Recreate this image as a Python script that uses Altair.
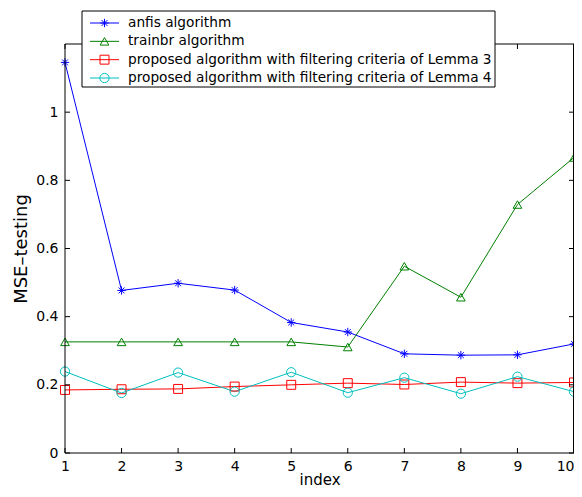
import altair as alt
import pandas as pd

# ---- data ----
index = [1, 2, 3, 4, 5, 6, 7, 8, 9, 10]
anfis = [1.146, 0.477, 0.498, 0.478, 0.383, 0.355, 0.291, 0.287, 0.288, 0.320]
trainbr = [0.326, 0.326, 0.326, 0.326, 0.326, 0.311, 0.548, 0.457, 0.729, 0.867]
lemma3 = [0.185, 0.187, 0.188, 0.195, 0.200, 0.205, 0.201, 0.208, 0.205, 0.207]
lemma4 = [0.239, 0.176, 0.236, 0.180, 0.237, 0.177, 0.221, 0.174, 0.224, 0.180]

series_names = [
    "anfis algorithm",
    "trainbr algorithm",
    "proposed algorithm with filtering criteria of Lemma 3",
    "proposed algorithm with filtering criteria of Lemma 4",
]
series_values = [anfis, trainbr, lemma3, lemma4]
colors = ["#0000ff", "#008000", "#ff0000", "#00bfbf"]
asterisk = "M-1,0L1,0M0,-1L0,1M-0.7,-0.7L0.7,0.7M-0.7,0.7L0.7,-0.7"
shapes = [asterisk, "triangle-up", "square", "circle"]
sizes = [70, 85, 45, 75]

x_ticks = [1, 2, 3, 4, 5, 6, 7, 8, 9, 10]
y_ticks = [0, 0.2, 0.4, 0.6, 0.8, 1.0]

W, H = 509, 409
FONT = "DejaVu Sans"

rows = []
for name, vals in zip(series_names, series_values):
    for i, v in zip(index, vals):
        rows.append({"index": i, "value": v, "series": name})
df = pd.DataFrame(rows)

xticks_df = pd.DataFrame({"index": x_ticks})
yticks_df = pd.DataFrame({"value": y_ticks})
one = pd.DataFrame({"k": [0]})
legend_df = pd.DataFrame({"series": series_names, "row": list(range(len(series_names)))})

xscale = alt.Scale(domain=[1, 10], nice=False, zero=False)
yscale = alt.Scale(domain=[0, 1.2], nice=False)
xaxis = alt.Axis(values=x_ticks, title="index", domain=False, ticks=False, grid=False,
                 labelFont=FONT, labelFontSize=14, labelColor="black", labelPadding=6,
                 labelFlush=False,
                 labelAlign={"condition": {"test": "datum.value == 10", "value": "right"},
                             "value": "center"},
                 titleFont=FONT, titleFontSize=15, titleFontWeight="normal",
                 titleColor="black", titleY=31, titleBaseline="alphabetic")
yaxis = alt.Axis(values=y_ticks, title="MSE\u2013testing", format="~g", domain=False, ticks=False,
                 grid=False, labelFont=FONT, labelFontSize=14, labelColor="black", labelPadding=7,
                 titleFont=FONT, titleFontSize=18, titleFontWeight="normal", titleColor="black",
                 titlePadding=5)

x_enc = alt.X("index:Q", scale=xscale, axis=xaxis)
y_enc = alt.Y("value:Q", scale=yscale, axis=yaxis)
color_enc = alt.Color("series:N", scale=alt.Scale(domain=series_names, range=colors), legend=None)
shape_enc = alt.Shape("series:N", scale=alt.Scale(domain=series_names, range=shapes), legend=None)
size_enc = alt.Size("series:N", scale=alt.Scale(domain=series_names, range=sizes), legend=None)

lines = alt.Chart(df).mark_line(strokeWidth=1).encode(
    x=x_enc, y=y_enc, color=color_enc, detail="series:N")
points = alt.Chart(df).mark_point(filled=False, strokeWidth=1, opacity=1).encode(
    x=x_enc, y=y_enc, color=color_enc, shape=shape_enc, size=size_enc)

TL = 5
tick_bottom = alt.Chart(xticks_df).mark_rule(color="black", strokeWidth=1).encode(
    x=x_enc, y=alt.value(H), y2=alt.value(H - TL))
tick_top = alt.Chart(xticks_df).mark_rule(color="black", strokeWidth=1).encode(
    x=x_enc, y=alt.value(0), y2=alt.value(TL))
tick_left = alt.Chart(yticks_df).mark_rule(color="black", strokeWidth=1).encode(
    y=y_enc, x=alt.value(0), x2=alt.value(TL))
tick_right = alt.Chart(yticks_df).mark_rule(color="black", strokeWidth=1).encode(
    y=y_enc, x=alt.value(W), x2=alt.value(W - TL))

border = [
    alt.Chart(one).mark_rule(color="black", strokeWidth=1).encode(
        x=alt.value(0), x2=alt.value(W), y=alt.value(0)),
    alt.Chart(one).mark_rule(color="black", strokeWidth=1).encode(
        x=alt.value(0), x2=alt.value(W), y=alt.value(H)),
    alt.Chart(one).mark_rule(color="black", strokeWidth=1).encode(
        x=alt.value(0), y=alt.value(0), y2=alt.value(H)),
    alt.Chart(one).mark_rule(color="black", strokeWidth=1).encode(
        x=alt.value(W - 0.5), y=alt.value(0), y2=alt.value(H)),
]

plot = alt.layer(lines, points, tick_bottom, tick_top, tick_left, tick_right, *border)

# ---- legend box ----
leg_y = alt.Y("row:O", scale=alt.Scale(type="point", domain=[0, 1, 2, 3], range=[-21, 34], padding=0),
              axis=None)
leg_frame = alt.Chart(one).mark_rect(fill="white", stroke="black", strokeWidth=1).encode(
    x=alt.value(17), x2=alt.value(430), y=alt.value(-33), y2=alt.value(43))
leg_lines = alt.Chart(legend_df).mark_rule(strokeWidth=1).encode(
    x=alt.value(25), x2=alt.value(54), y=leg_y, color=color_enc)
leg_pts = alt.Chart(legend_df).mark_point(filled=False, strokeWidth=1, opacity=1).encode(
    x=alt.value(39.5), y=leg_y, color=color_enc, shape=shape_enc, size=size_enc)
leg_text = alt.Chart(legend_df).mark_text(align="left", baseline="middle", font=FONT,
                                          fontSize=13.7, color="black").encode(
    x=alt.value(63), y=leg_y, text="series:N")
legend = alt.layer(leg_frame, leg_lines, leg_pts, leg_text)

chart = alt.layer(plot, legend).resolve_scale(y="independent").properties(
    width=W, height=H,
    autosize=alt.AutoSizeParams(type="none"),
    padding={"left": 57, "top": 36, "right": 0, "bottom": 37},
    background="white",
).configure_view(stroke=None)

chart.save("out.html", embed_options={"renderer": "svg", "actions": False})
